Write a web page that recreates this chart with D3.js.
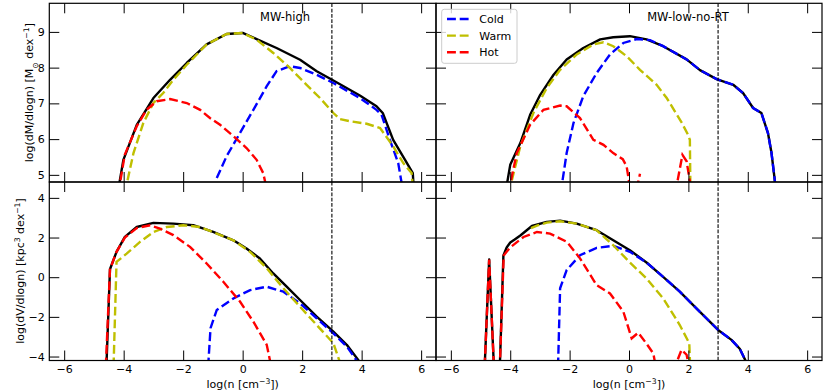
<!DOCTYPE html>
<html><head><meta charset="utf-8">
<script src="https://cdn.jsdelivr.net/npm/d3@7"></script>
<style>
body{margin:0;background:#fff}
svg{display:block}
text{font-family:"DejaVu Sans",sans-serif}
</style></head>
<body><svg id="c" width="830" height="392"></svg>
<script>
// ---------- data ----------
const xTicks = [-6,-4,-2,0,2,4,6];
const massTicks = [5,6,7,8,9];
const volTicks = [-4,-2,0,2,4];
const seriesNames = ["Cold","Warm","Hot"];
const panelTitles = ["MW-high","MW-low-no-RT"];
const densityCut = 3;

// MW-high, log(dM/dlogn)
const totalHighM = [[-4.2,4.5],[-4.01,5.42],[-3.56,6.40],[-3.0,7.15],[-2.44,7.66],[-1.88,8.13],[-1.21,8.65],[-0.54,8.94],[0,8.97],[0.47,8.80],[1.14,8.55],[1.93,8.22],[2.49,7.90],[3.05,7.64],[3.94,7.22],[4.5,6.92],[4.71,6.73],[5.06,5.98],[5.46,5.42],[5.72,5.05],[5.76,4.5]];
const coldHighM = [[-0.87,4.91],[-0.54,5.52],[-0.09,6.17],[0.36,6.82],[0.81,7.48],[1.14,7.90],[1.59,8.04],[1.93,7.99],[2.49,7.80],[3.05,7.57],[3.94,7.15],[4.5,6.82],[4.67,6.68],[4.95,5.98],[5.23,5.33],[5.4,4.5]];
const warmHighM = [[-3.96,4.5],[-3.67,5.61],[-3.34,6.45],[-3.0,7.01],[-2.67,7.29],[-2.33,7.66],[-1.88,8.08],[-1.21,8.65],[-0.54,8.94],[0,8.97],[0.47,8.78],[1.03,8.41],[1.59,7.99],[2.15,7.52],[2.6,7.15],[3.05,6.73],[3.27,6.56],[3.61,6.50],[4.17,6.43],[4.62,6.31],[5.06,5.80],[5.4,5.33],[5.68,5.05],[5.74,4.5]];
const hotHighM = [[-4.18,4.5],[-3.96,5.57],[-3.56,6.36],[-3.23,6.82],[-2.89,7.06],[-2.44,7.12],[-1.88,7.01],[-1.43,6.82],[-1.1,6.59],[-0.76,6.40],[-0.31,6.08],[0.13,5.75],[0.47,5.42],[0.69,5.05],[0.84,4.5]];

// MW-low-no-RT, log(dM/dlogn)
const totalLowM = [[-4.16,4.5],[-4.0,5.28],[-3.66,5.89],[-3.33,6.68],[-2.99,7.24],[-2.54,7.80],[-2.1,8.23],[-1.54,8.55],[-0.97,8.79],[-0.53,8.85],[0.03,8.88],[0.59,8.79],[1.15,8.60],[1.94,8.23],[2.39,7.93],[2.95,7.68],[3.51,7.52],[3.84,7.29],[4.18,6.87],[4.46,6.73],[4.68,6.17],[4.8,5.61],[4.96,4.5]];
const coldLowM = [[-2.3,4.5],[-2.1,5.61],[-1.87,6.45],[-1.54,7.20],[-1.09,7.85],[-0.64,8.37],[-0.19,8.69],[0.26,8.80],[0.71,8.77],[1.15,8.60],[1.94,8.23],[2.39,7.93],[2.95,7.68],[3.51,7.52],[3.84,7.29],[4.18,6.87],[4.46,6.73],[4.68,6.17],[4.8,5.61],[4.96,4.5]];
const warmLowM = [[-4.05,4.5],[-3.66,5.80],[-3.22,6.73],[-2.77,7.43],[-2.32,7.94],[-1.76,8.37],[-1.2,8.65],[-0.86,8.71],[-0.53,8.60],[-0.08,8.32],[0.37,7.94],[0.93,7.52],[1.27,7.15],[1.77,6.47],[1.99,6.12],[2.05,5.98],[2.07,4.5]];
const hotLowM = [[-4.06,4.5],[-3.78,5.61],[-3.33,6.40],[-2.88,6.82],[-2.32,6.94],[-2.1,6.92],[-1.65,6.59],[-1.2,5.98],[-0.86,5.84],[-0.53,5.61],[-0.21,5.44],[-0.08,5.24],[0.0,4.82],[0.03,4.4],[0.05,null],[0.26,4.6],[0.37,5.03],[0.38,null],[1.56,4.5],[1.80,5.56],[1.94,5.38],[2.05,4.82],[2.09,4.5]];

// MW-high, log(dV/dlogn)
const totalHighV = [[-4.58,-4.5],[-4.46,0.4],[-4.24,1.28],[-3.96,2.03],[-3.56,2.53],[-3.0,2.74],[-2.33,2.70],[-1.66,2.62],[-0.99,2.28],[-0.31,1.86],[0.13,1.45],[0.58,0.94],[1.03,0.19],[1.48,-0.48],[1.93,-1.15],[2.49,-1.99],[3.05,-2.74],[3.5,-3.41],[4.05,-4.5]];
const coldHighV = [[-1.16,-4.5],[-1.08,-2.57],[-0.87,-1.65],[-0.31,-1.07],[0.25,-0.65],[0.81,-0.48],[1.37,-0.73],[1.93,-1.32],[2.49,-2.07],[3.05,-2.83],[3.5,-3.49],[3.97,-4.5]];
const warmHighV = [[-4.34,-4.5],[-4.24,0.77],[-3.9,1.19],[-3.45,1.78],[-3.0,2.28],[-2.55,2.53],[-1.99,2.62],[-1.43,2.53],[-0.87,2.2],[-0.31,1.86],[0.25,1.28],[0.81,0.45],[1.37,-0.56],[1.93,-1.49],[2.49,-2.41],[3.05,-3.33],[3.32,-4.5]];
const hotHighV = [[-4.6,-4.5],[-4.46,0.4],[-4.24,1.28],[-3.96,2.0],[-3.56,2.48],[-3.11,2.62],[-2.78,2.45],[-2.33,2.12],[-1.77,1.53],[-1.21,0.69],[-0.65,-0.23],[-0.09,-1.23],[0.36,-2.24],[0.81,-3.41],[0.96,-4.5]];

// MW-low-no-RT, log(dV/dlogn)
const totalLowV = [[-4.86,-4.5],[-4.71,0.89],[-4.55,-4.5],[-4.35,-4.5],[-4.23,1.1],[-4.12,1.5],[-4.0,1.75],[-3.85,1.9],[-3.66,2.1],[-3.27,2.58],[-2.77,2.79],[-2.32,2.85],[-1.76,2.70],[-1.09,2.37],[-0.53,1.86],[0.03,1.36],[0.59,0.74],[1.15,0.02],[1.71,-0.73],[2.27,-1.57],[2.72,-2.24],[3.0,-2.66],[3.45,-3.16],[3.73,-3.61],[4.02,-4.5]];
const coldLowV = [[-2.39,-4.5],[-2.32,-0.56],[-2.1,0.36],[-1.65,1.11],[-1.09,1.48],[-0.53,1.58],[0.03,1.28],[0.59,0.74],[1.15,0.02],[1.71,-0.73],[2.27,-1.57],[2.72,-2.24],[3.0,-2.66],[3.45,-3.16],[3.73,-3.61],[4.02,-4.5]];
const warmLowV = [[-3.3,2.47],[-3.1,2.6],[-2.77,2.75],[-2.32,2.82],[-1.76,2.70],[-1.09,2.37],[-0.53,1.61],[0.03,0.74],[0.59,-0.06],[1.15,-1.07],[1.71,-2.41],[2.03,-3.33],[2.06,-4.5]];
const hotLowV = [[-4.86,-4.5],[-4.71,0.89],[-4.55,-4.5],[-4.35,-4.5],[-4.22,1.1],[-4.0,1.5],[-3.55,2.03],[-3.10,2.28],[-2.66,2.2],[-2.09,1.78],[-1.65,0.95],[-1.09,-0.40],[-0.64,-0.82],[-0.19,-1.74],[0.09,-3.08],[0.31,-2.8],[0.59,-3.35],[0.82,-3.85],[0.9,-4.5],[1.55,-4.5],[1.77,-3.66],[1.94,-3.91],[2.02,-4.5]];

// ---------- layout ----------
const svg = d3.select("#c");
const colX = [[49.3,436],[436,822]];
const rowY = [[182,3.3],[360.5,182]];
const yDomains = [[4.8,9.8],[-4.2,4.8]];
const yTicksRow = [massTicks, volTicks];
const colors = {total:"#000000", Cold:"#0000ff", Warm:"#bfbf00", Hot:"#ff0000"};
const panels = [
  {r:0,c:0,total:totalHighM,cold:coldHighM,warm:warmHighM,hot:hotHighM},
  {r:0,c:1,total:totalLowM,cold:coldLowM,warm:warmLowM,hot:hotLowM},
  {r:1,c:0,total:totalHighV,cold:coldHighV,warm:warmHighV,hot:hotHighV},
  {r:1,c:1,total:totalLowV,cold:coldLowV,warm:warmLowV,hot:hotLowV}
];
const font = 11;
const lw = 2.4;
const dash = `${3.7*lw},${1.6*lw}`;
const fmt = d3.format("d");

panels.forEach((p,i)=>{
  const x = d3.scaleLinear().domain([-6.5,6.5]).range(colX[p.c]);
  const y = d3.scaleLinear().domain(yDomains[p.r]).range(rowY[p.r]);
  const g = svg.append("g");
  const cid = "clip"+i;
  g.append("clipPath").attr("id",cid).append("rect")
    .attr("x",colX[p.c][0]).attr("y",rowY[p.r][1])
    .attr("width",colX[p.c][1]-colX[p.c][0]).attr("height",rowY[p.r][0]-rowY[p.r][1]);
  const line = d3.line().defined(d=>d[1]!==null).x(d=>x(d[0])).y(d=>y(d[1]));
  const plot = g.append("g").attr("clip-path",`url(#${cid})`);
  plot.append("path").datum(p.total).attr("d",line).attr("fill","none")
    .attr("stroke",colors.total).attr("stroke-width",lw).attr("stroke-linejoin","round");
  [["Cold",p.cold],["Warm",p.warm],["Hot",p.hot]].forEach(([nm,dat])=>{
    plot.append("path").datum(dat).attr("d",line).attr("fill","none")
      .attr("stroke",colors[nm]).attr("stroke-width",lw).attr("stroke-dasharray",dash);
  });
  // vertical dashed line at n = 3
  plot.append("line").attr("x1",x(densityCut)).attr("x2",x(densityCut))
    .attr("y1",rowY[p.r][0]).attr("y2",rowY[p.r][1])
    .attr("stroke","#000").attr("stroke-width",1.1).attr("stroke-dasharray","3.7,1.6");

  // axes
  const mk = (ax)=>ax.tickSizeInner(-10).tickSizeOuter(0);
  const yb = rowY[p.r][0], yt = rowY[p.r][1], xl = colX[p.c][0], xr = colX[p.c][1];
  const showX = p.r===1, showY = p.c===0;
  const aB = svg.append("g").attr("transform",`translate(0,${yb})`)
    .call(mk(d3.axisBottom(x).tickValues(xTicks)).tickPadding(5).tickFormat(showX?fmt:""));
  const aT = svg.append("g").attr("transform",`translate(0,${yt})`)
    .call(mk(d3.axisTop(x).tickValues(xTicks)).tickFormat(""));
  const aL = svg.append("g").attr("transform",`translate(${xl},0)`)
    .call(mk(d3.axisLeft(y).tickValues(yTicksRow[p.r])).tickPadding(4.5).tickFormat(showY?fmt:""));
  const aR = svg.append("g").attr("transform",`translate(${xr},0)`)
    .call(mk(d3.axisRight(y).tickValues(yTicksRow[p.r])).tickFormat(""));
  [aB,aT,aL,aR].forEach(a=>{
    a.select(".domain").remove();
    a.selectAll("line").attr("stroke","#000").attr("stroke-width",1);
    a.selectAll("text").attr("font-size",font).attr("fill","#000").attr("font-family","DejaVu Sans");
  });
  svg.append("rect").attr("x",xl).attr("y",yt).attr("width",xr-xl).attr("height",yb-yt)
    .attr("fill","none").attr("stroke","#000").attr("stroke-width",1.2);

  if(p.r===0){
    svg.append("text").attr("x",p.c===0?285:688).attr("y",21).attr("text-anchor","middle")
      .attr("font-size",11.5).text(panelTitles[p.c]);
  }
  if(p.r===1){
    const t = svg.append("text").attr("x",(xl+xr)/2).attr("y",388).attr("text-anchor","middle").attr("font-size",font);
    t.append("tspan").text("log(n [cm");
    t.append("tspan").attr("baseline-shift","super").attr("font-size",font*0.7).text("−3");
    t.append("tspan").text("])");
  }
});

// y labels
{
  const t = svg.append("text").attr("transform","translate(33,92.6) rotate(-90)")
    .attr("text-anchor","middle").attr("font-size",font);
  t.append("tspan").text("log(dM/dlogn) [M");
  t.append("tspan").attr("baseline-shift","sub").attr("font-size",font*0.7).text("⊙");
  t.append("tspan").text(" dex");
  t.append("tspan").attr("baseline-shift","super").attr("font-size",font*0.7).text("−1");
  t.append("tspan").text("]");
  const b = svg.append("text").attr("transform","translate(24,271) rotate(-90)")
    .attr("text-anchor","middle").attr("font-size",font);
  b.append("tspan").text("log(dV/dlogn) [kpc");
  b.append("tspan").attr("baseline-shift","super").attr("font-size",font*0.7).text("3");
  b.append("tspan").text(" dex");
  b.append("tspan").attr("baseline-shift","super").attr("font-size",font*0.7).text("−1");
  b.append("tspan").text("]");
}

// legend
{
  const lg = svg.append("g");
  lg.append("rect").attr("x",441.7).attr("y",9.3).attr("width",75.3).attr("height",54)
    .attr("rx",2.5).attr("fill","#fff").attr("fill-opacity",0.8).attr("stroke","#cccccc").attr("stroke-width",1);
  seriesNames.forEach((nm,i)=>{
    const yy = 19 + i*16.65;
    lg.append("line").attr("x1",447).attr("x2",470).attr("y1",yy).attr("y2",yy)
      .attr("stroke",colors[nm]).attr("stroke-width",lw).attr("stroke-dasharray",dash);
    lg.append("text").attr("x",479.3).attr("y",yy).attr("dy","0.36em").attr("font-size",font).text(nm);
  });
}
</script></body></html>
